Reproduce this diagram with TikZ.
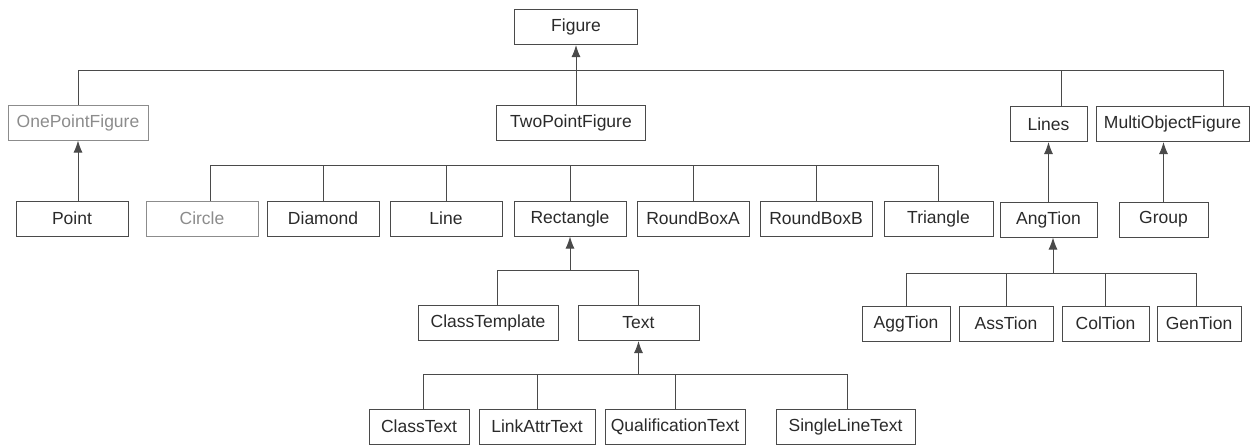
\documentclass[tikz,border=0pt]{standalone}
\usepackage{fontspec}
\setmainfont{Liberation Sans}
\usepackage{tikz}
\usetikzlibrary{positioning, arrows.meta}
\usepackage{xcolor}
\definecolor{linegray}{HTML}{4A4A4A}
\definecolor{textdark}{HTML}{2A2A2A}
\definecolor{textpale}{HTML}{8C8C8C}

\tikzset{
  cls/.style={draw=linegray, line width=0.5pt, rectangle, minimum height=17.5pt, minimum width=56pt, inner sep=2pt, text=textdark, font=\fontsize{8.75}{10}\selectfont},
  faded/.style={text=textpale, draw=textpale},
  inherit/.style={-{Latex[length=6pt, width=4.5pt]}, draw=linegray, line width=0.5pt},
  branch/.style={draw=linegray, line width=0.5pt}
}

\begin{document}
\begin{tikzpicture}[x=0.5pt, y=-0.5pt]
\useasboundingbox (0,0) rectangle (1253,445);

% root
\node[cls, minimum width=61.5pt] (Figure) at (576,27) {Figure};

% first level
\node[cls, faded, minimum width=70pt] (OnePointFigure) at (78,122.5) {OnePointFigure};
\node[cls, minimum width=74.5pt] (TwoPointFigure) at (571,122.5) {TwoPointFigure};
\node[cls, minimum width=38.5pt] (Lines) at (1048.5,124) {Lines};
\node[cls, minimum width=76.5pt, right=4pt of Lines] (MultiObjectFigure) {MultiObjectFigure};

% second level
\node[cls] (Point) at (72,218.5) {Point};
\node[cls, faded, right=8.5pt of Point] (Circle) {Circle};
\node[cls, right=4pt of Circle] (Diamond) {Diamond};
\node[cls, right=5pt of Diamond] (Line) {Line};
\node[cls, right=5.5pt of Line] (Rectangle) {Rectangle};
\node[cls, right=5pt of Rectangle] (RoundBoxA) {RoundBoxA};
\node[cls, right=5pt of RoundBoxA] (RoundBoxB) {RoundBoxB};
\node[cls, minimum width=54.5pt, right=5.5pt of RoundBoxB] (Triangle) {Triangle};
\node[cls, minimum width=48.5pt] (AngTion) at (1048.5,219.5) {AngTion};
\node[cls, minimum width=44.5pt] (Group) at (1163.5,219.5) {Group};

% third level
\node[cls, minimum width=70pt] (ClassTemplate) at (488,323) {ClassTemplate};
\node[cls, minimum width=60.5pt, right=9.5pt of ClassTemplate] (Text) {Text};
\node[cls, minimum width=44pt] (AggTion) at (906,323.5) {AggTion};
\node[cls, minimum width=47pt, right=4pt of AggTion] (AssTion) {AssTion};
\node[cls, minimum width=43.5pt, right=4pt of AssTion] (ColTion) {ColTion};
\node[cls, minimum width=42pt, right=3.5pt of ColTion] (GenTion) {GenTion};

% fourth level
\node[cls, minimum width=50pt] (ClassText) at (419,426.5) {ClassText};
\node[cls, minimum width=58pt, right=4.5pt of ClassText] (LinkAttrText) {LinkAttrText};
\node[cls, minimum width=70pt, right=4.5pt of LinkAttrText] (QualificationText) {QualificationText};
\node[cls, minimum width=69.5pt, right=15pt of QualificationText] (SingleLineText) {SingleLineText};

% bus heights
\coordinate (topbus) at (0,70);
\coordinate (shapebus) at (0,165);
\coordinate (rectbus) at (0,270);
\coordinate (assocbus) at (0,273);
\coordinate (textbus) at (0,374);

% Figure and its children
\draw[inherit] (Figure.south |- TwoPointFigure.north) -- (Figure.south);
\draw[branch] (OnePointFigure.north) |- ([xshift=-13pt]MultiObjectFigure.north east |- topbus) -- ([xshift=-13pt]MultiObjectFigure.north east);
\draw[branch] ([xshift=6.25pt]Lines.north) -- ([xshift=6.25pt]Lines.north |- topbus);

% shapes of two points
\draw[branch] ([xshift=4pt]Circle.north) |- (Triangle.north |- shapebus) -- (Triangle.north);
\foreach \shp in {Diamond, Line, Rectangle, RoundBoxA, RoundBoxB}
  \draw[branch] (\shp.north) -- (\shp.north |- shapebus);

% single inheritance arrows
\draw[inherit] (Point.north -| OnePointFigure.south) -- (OnePointFigure.south);
\draw[inherit] (AngTion.north) -- (Lines.south);
\draw[inherit] (Group.north) -- (Group.north |- MultiObjectFigure.south);

% Rectangle subtree
\draw[inherit] (Rectangle.south |- rectbus) -- (Rectangle.south);
\draw[branch] ([xshift=4.5pt]ClassTemplate.north) |- (Text.north |- rectbus) -- (Text.north);

% Text subtree
\draw[inherit] (Text.south |- textbus) -- (Text.south);
\draw[branch] ([xshift=2pt]ClassText.north) |- ([xshift=1pt]SingleLineText.north |- textbus) -- ([xshift=1pt]SingleLineText.north);
\foreach \txt in {LinkAttrText, QualificationText}
  \draw[branch] (\txt.north) -- (\txt.north |- textbus);

% AngTion subtree
\draw[inherit] ([xshift=2.25pt]AngTion.south |- assocbus) -- ([xshift=2.25pt]AngTion.south);
\draw[branch] (AggTion.north) |- ([xshift=-1.5pt]GenTion.north |- assocbus) -- ([xshift=-1.5pt]GenTion.north);
\foreach \rel in {AssTion, ColTion}
  \draw[branch] (\rel.north) -- (\rel.north |- assocbus);
\end{tikzpicture}
\end{document}
